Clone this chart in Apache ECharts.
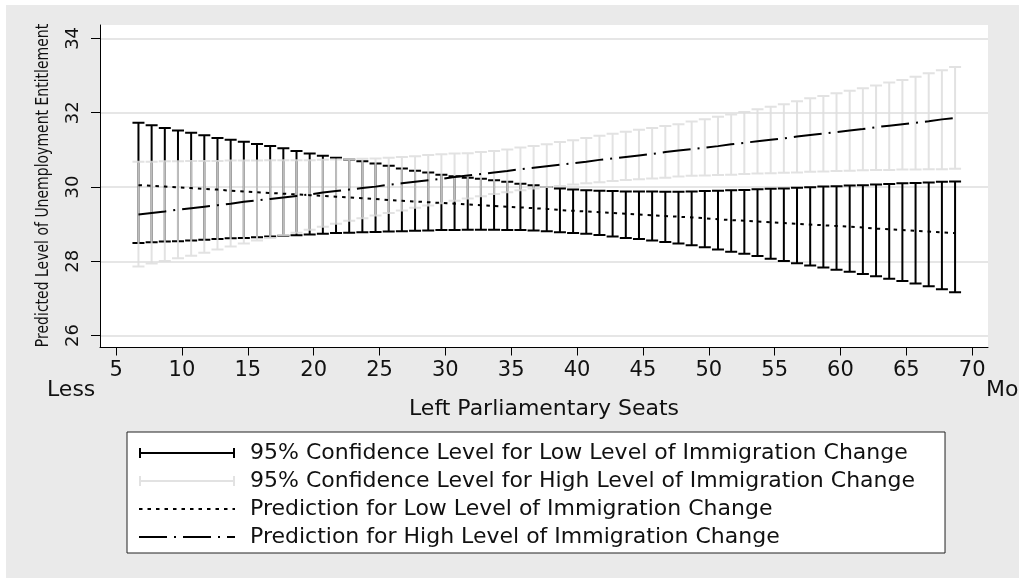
<!DOCTYPE html>
<html>
<head>
<meta charset="utf-8">
<title>Predicted Level of Unemployment Entitlement</title>
<script src="https://cdn.jsdelivr.net/npm/echarts@6.0.0/dist/echarts.min.js"></script>
<style>
html, body { margin: 0; padding: 0; background: #fff; }
#wrap { position: relative; width: 1019px; height: 578px; overflow: hidden; }
#bg { position: absolute; left: 6px; top: 5px; right: 0; bottom: 0; background: #eaeaea; }
#chart { position: absolute; left: 0; top: 0; width: 1019px; height: 578px; }
</style>
</head>
<body>
<div id="wrap"><div id="bg"></div><div id="chart"></div></div>
<script>
var seats = [6.7, 7.7, 8.7, 9.7, 10.7, 11.7, 12.7, 13.7, 14.7, 15.7,
  16.7, 17.7, 18.7, 19.7, 20.7, 21.7, 22.7, 23.7, 24.7, 25.7,
  26.7, 27.7, 28.7, 29.7, 30.7, 31.7, 32.7, 33.7, 34.7, 35.7,
  36.7, 37.7, 38.7, 39.7, 40.7, 41.7, 42.7, 43.7, 44.7, 45.7,
  46.7, 47.7, 48.7, 49.7, 50.7, 51.7, 52.7, 53.7, 54.7, 55.7,
  56.7, 57.7, 58.7, 59.7, 60.7, 61.7, 62.7, 63.7, 64.7, 65.7,
  66.7, 67.7, 68.7]

// 95% CI, low immigration change (black)
var lowUpper = [31.73, 31.66, 31.59, 31.52, 31.46, 31.39, 31.32, 31.27, 31.22, 31.16,
  31.10, 31.04, 30.97, 30.90, 30.84, 30.79, 30.74, 30.69, 30.63, 30.57,
  30.50, 30.44, 30.39, 30.33, 30.29, 30.25, 30.22, 30.18, 30.14, 30.09,
  30.05, 30.00, 29.96, 29.93, 29.91, 29.90, 29.89, 29.88, 29.88, 29.88,
  29.87, 29.87, 29.88, 29.89, 29.90, 29.91, 29.92, 29.94, 29.95, 29.96,
  29.98, 29.99, 30.01, 30.02, 30.04, 30.05, 30.07, 30.08, 30.10, 30.11,
  30.12, 30.14, 30.15]
var lowLower = [28.49, 28.51, 28.53, 28.54, 28.56, 28.58, 28.60, 28.62, 28.63, 28.65,
  28.67, 28.69, 28.70, 28.72, 28.74, 28.76, 28.77, 28.78, 28.79, 28.80,
  28.81, 28.82, 28.83, 28.84, 28.84, 28.85, 28.85, 28.85, 28.84, 28.84,
  28.83, 28.81, 28.78, 28.76, 28.74, 28.71, 28.67, 28.63, 28.60, 28.56,
  28.52, 28.48, 28.43, 28.38, 28.32, 28.26, 28.20, 28.14, 28.07, 28.01,
  27.95, 27.89, 27.83, 27.77, 27.72, 27.66, 27.60, 27.53, 27.47, 27.40,
  27.33, 27.25, 27.17]

// 95% CI, high immigration change (light grey)
var highUpper = [30.68, 30.68, 30.69, 30.69, 30.70, 30.70, 30.70, 30.71, 30.71, 30.71,
  30.72, 30.72, 30.72, 30.72, 30.73, 30.74, 30.75, 30.76, 30.77, 30.79,
  30.81, 30.83, 30.86, 30.88, 30.90, 30.91, 30.94, 30.97, 31.01, 31.06,
  31.10, 31.15, 31.21, 31.26, 31.32, 31.38, 31.43, 31.49, 31.54, 31.59,
  31.64, 31.69, 31.76, 31.82, 31.89, 31.95, 32.02, 32.09, 32.16, 32.23,
  32.31, 32.39, 32.45, 32.52, 32.59, 32.66, 32.73, 32.81, 32.88, 32.97,
  33.06, 33.14, 33.23]
var highLower = [27.86, 27.94, 28.01, 28.08, 28.15, 28.23, 28.32, 28.40, 28.48, 28.56,
  28.63, 28.70, 28.77, 28.85, 28.93, 29.01, 29.09, 29.16, 29.23, 29.30,
  29.37, 29.44, 29.50, 29.56, 29.63, 29.69, 29.75, 29.81, 29.86, 29.91,
  29.96, 30.00, 30.03, 30.07, 30.10, 30.13, 30.16, 30.19, 30.21, 30.23,
  30.25, 30.28, 30.30, 30.31, 30.32, 30.33, 30.35, 30.36, 30.37, 30.38,
  30.39, 30.41, 30.42, 30.43, 30.44, 30.45, 30.46, 30.46, 30.47, 30.47,
  30.48, 30.48, 30.49]

// predictions
var lowPred = [30.05, 30.03, 30.01, 29.99, 29.97, 29.95, 29.93, 29.90, 29.88, 29.86,
  29.84, 29.82, 29.80, 29.78, 29.76, 29.74, 29.72, 29.70, 29.68, 29.65,
  29.63, 29.61, 29.59, 29.57, 29.55, 29.53, 29.51, 29.49, 29.47, 29.45,
  29.43, 29.41, 29.38, 29.36, 29.34, 29.32, 29.30, 29.28, 29.26, 29.24,
  29.22, 29.20, 29.18, 29.16, 29.13, 29.11, 29.09, 29.07, 29.05, 29.03,
  29.01, 28.99, 28.97, 28.95, 28.93, 28.91, 28.88, 28.86, 28.84, 28.82,
  28.80, 28.78, 28.76]
var highPred = [29.26, 29.30, 29.34, 29.39, 29.43, 29.47, 29.51, 29.55, 29.60, 29.64,
  29.68, 29.72, 29.76, 29.80, 29.85, 29.89, 29.93, 29.97, 30.01, 30.06,
  30.10, 30.14, 30.18, 30.22, 30.27, 30.31, 30.35, 30.39, 30.43, 30.48,
  30.52, 30.56, 30.60, 30.64, 30.68, 30.73, 30.77, 30.81, 30.85, 30.89,
  30.94, 30.98, 31.02, 31.06, 31.10, 31.15, 31.19, 31.23, 31.27, 31.31,
  31.36, 31.40, 31.44, 31.48, 31.52, 31.56, 31.61, 31.65, 31.69, 31.73,
  31.77, 31.82, 31.86]

var xTicks = [5, 10, 15, 20, 25, 30, 35, 40, 45, 50, 55, 60, 65, 70]
var yTicks = [26, 28, 30, 32, 34]

var seriesNames = [
  '95% Confidence Level for Low Level of Immigration Change',
  '95% Confidence Level for High Level of Immigration Change',
  'Prediction for Low Level of Immigration Change',
  'Prediction for High Level of Immigration Change'
]

var FONT = 'DejaVu Sans'
var capIcon = 'path://M0,0h2v10h-2zM0,4h96v2h-96zM94,0h2v10h-2z'

function pairs(ys) {
  return seats.map(function (x, i) { return [x, ys[i]] })
}
function ranges(lo, hi) {
  return seats.map(function (x, i) { return [x, lo[i], hi[i]] })
}

function renderCap(params, api) {
  var x = api.value(0)
  var lo = api.coord([x, api.value(1)])
  var hi = api.coord([x, api.value(2)])
  var w = 6
  var d = 'M' + lo[0] + ' ' + lo[1] + 'L' + hi[0] + ' ' + hi[1] +
    'M' + (hi[0] - w) + ' ' + hi[1] + 'L' + (hi[0] + w) + ' ' + hi[1] +
    'M' + (lo[0] - w) + ' ' + lo[1] + 'L' + (lo[0] + w) + ' ' + lo[1]
  return {
    type: 'path',
    shape: { pathData: d },
    style: { fill: 'none', stroke: api.visual('color'), lineWidth: 2 }
  }
}

var chart = echarts.init(document.getElementById('chart'))
chart.setOption({
  animation: false,
  backgroundColor: 'transparent',
  textStyle: { fontFamily: FONT },
  grid: {
    left: 100,
    top: 25,
    width: 888,
    height: 322.5,
    show: true,
    backgroundColor: '#fff',
    borderWidth: 0,
    outerBoundsMode: 'none'
  },
  xAxis: {
    type: 'value',
    min: 3.78,
    max: 71.2,
    name: 'Left Parliamentary Seats',
    nameLocation: 'middle',
    nameGap: 51,
    nameTextStyle: { fontFamily: FONT, fontSize: 22, color: '#111' },
    axisLine: { show: true, onZero: false, lineStyle: { color: '#000', width: 1 } },
    axisTick: { show: true, length: 8, customValues: xTicks, lineStyle: { color: '#000', width: 1 } },
    axisLabel: { customValues: xTicks, margin: 13, fontFamily: FONT, fontSize: 21, color: '#111' },
    splitLine: { show: false }
  },
  yAxis: {
    type: 'value',
    min: 25.68,
    max: 34.36,
    axisLine: { show: true, onZero: false, lineStyle: { color: '#000', width: 1 } },
    axisTick: { show: true, length: 9, customValues: yTicks, lineStyle: { color: '#000', width: 1 } },
    axisLabel: { customValues: yTicks, rotate: 90, margin: 18, fontFamily: FONT, fontSize: 18, color: '#111' },
    splitLine: { show: true, lineStyle: { color: '#e6e6e6', width: 2 } }
  },
  legend: {
    orient: 'vertical',
    left: 127,
    top: 432,
    padding: [10, 30, 5, 11],
    itemWidth: 96,
    itemHeight: 10,
    itemGap: 6,
    selectedMode: false,
    backgroundColor: '#fff',
    borderColor: '#222',
    borderWidth: 1,
    textStyle: { fontFamily: FONT, fontSize: 22, color: '#111', padding: [0, 0, 0, 10] },
    data: [
      { name: seriesNames[0], icon: capIcon },
      { name: seriesNames[1], icon: capIcon },
      { name: seriesNames[2], itemStyle: { opacity: 0 } },
      { name: seriesNames[3], itemStyle: { opacity: 0 } }
    ]
  },
  graphic: [
    {
      type: 'text',
      x: 43,
      y: 185.5,
      rotation: Math.PI / 2,
      scaleY: 1.3,
      style: {
        text: 'Predicted Level of Unemployment Entitlement',
        fontFamily: FONT,
        fontSize: 14,
        fill: '#111',
        align: 'center',
        verticalAlign: 'middle'
      }
    },
    {
      type: 'text',
      x: 47,
      y: 390,
      style: { text: 'Less', fontFamily: FONT, fontSize: 22, fill: '#111', align: 'left', verticalAlign: 'middle' }
    },
    {
      type: 'text',
      x: 986,
      y: 390,
      style: { text: 'More', fontFamily: FONT, fontSize: 22, fill: '#111', align: 'left', verticalAlign: 'middle' }
    }
  ],
  series: [
    {
      name: seriesNames[0],
      type: 'custom',
      z: 2,
      renderItem: renderCap,
      itemStyle: { color: '#000' },
      encode: { x: 0, y: [1, 2] },
      data: ranges(lowLower, lowUpper)
    },
    {
      name: seriesNames[1],
      type: 'custom',
      z: 3,
      renderItem: renderCap,
      itemStyle: { color: 'rgba(221,221,221,0.855)' },
      encode: { x: 0, y: [1, 2] },
      data: ranges(highLower, highUpper)
    },
    {
      name: seriesNames[2],
      type: 'line',
      z: 4,
      symbol: 'none',
      showSymbol: false,
      itemStyle: { color: '#000' },
      lineStyle: { color: '#000', width: 2, type: [3.5, 5] },
      data: pairs(lowPred)
    },
    {
      name: seriesNames[3],
      type: 'line',
      z: 5,
      symbol: 'none',
      showSymbol: false,
      itemStyle: { color: '#000' },
      lineStyle: { color: '#000', width: 2, type: [28, 7, 2, 7] },
      data: pairs(highPred)
    }
  ]
})
</script>
</body>
</html>
